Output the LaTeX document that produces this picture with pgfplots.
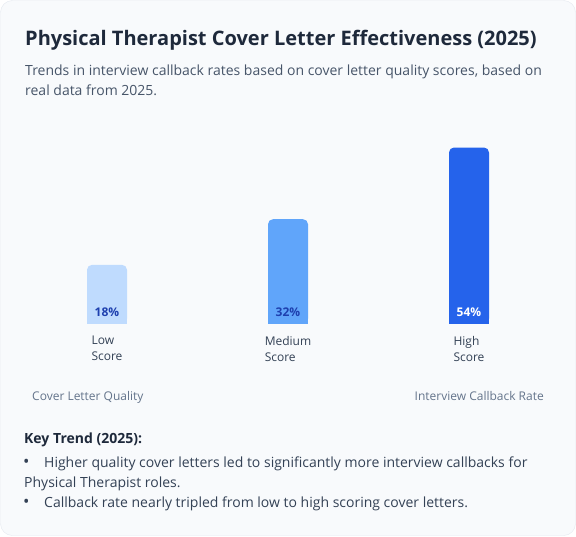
\documentclass[border=0pt]{standalone}
\usepackage{pgfplots}
\pgfplotsset{compat=1.18}
\usepackage{fontspec}
\setmainfont{Open Sans}

\definecolor{card}{HTML}{F8FAFC}
\definecolor{cardline}{HTML}{E5E9F0}
\definecolor{titlec}{HTML}{1E293B}
\definecolor{subc}{HTML}{475569}
\definecolor{tickc}{HTML}{334155}
\definecolor{axc}{HTML}{64748B}
\definecolor{lowc}{HTML}{BFDBFE}
\definecolor{medc}{HTML}{60A5FA}
\definecolor{highc}{HTML}{2563EB}
\definecolor{valc}{HTML}{1E40AF}

\pgfplotsset{
  cardbar/.style={ybar, bar width=40pt, bar shift=0pt, draw=none},
  % lower part of a bar: square corners, carries the value label
  barfoot/.style={cardbar, y filter/.expression={min(y,3.6)}, point meta=rawy,
    nodes near coords={\pgfmathprintnumber[assume math mode=true]{\pgfplotspointmeta}\%},
    every node near coord/.append style={anchor=center, inner sep=0pt, text=#1,
      font=\fontsize{12}{14}\selectfont\bfseries}},
}

\begin{document}
\begin{tikzpicture}[x=1pt,y=-1pt]
\fill[white] (0,0) rectangle (576,536);
\draw[cardline, fill=card, rounded corners=12pt] (0.5,0.5) rectangle (575.5,535.5);

\node[anchor=base west, inner sep=0, text=titlec, font=\fontsize{20}{24}\selectfont\bfseries]
  at (25,45) {Physical Therapist Cover Letter Effectiveness (2025)};
\node[anchor=base west, inner sep=0, text=subc, font=\fontsize{14}{20}\selectfont]
  at (25,75) {Trends in interview callback rates based on cover letter quality scores, based on};
\node[anchor=base west, inner sep=0, text=subc, font=\fontsize{14}{20}\selectfont]
  at (25,95) {real data from 2025.};

\begin{axis}[
  at={(16.5pt,-323.5pt)}, anchor=south west,
  scale only axis, width=543pt, height=176pt,
  xmin=-0.5, xmax=2.5, ymin=0, ymax=54,
  clip=false,
  axis line style={draw=none}, tick style={draw=none},
  ytick=\empty,
  xtick={0,1,2},
  xticklabels={{Low\\Score},{Medium\\Score},{High\\Score}},
  xticklabel style={align=left, text=tickc, yshift=-9pt, font=\fontsize{12}{16}\selectfont},
]
\addplot[cardbar, fill=lowc, rounded corners=5pt] coordinates {(0,18)};
\addplot[barfoot=valc, fill=lowc] coordinates {(0,18)};
\addplot[cardbar, fill=medc, rounded corners=5pt] coordinates {(1,32)};
\addplot[barfoot=valc, fill=medc] coordinates {(1,32)};
\addplot[cardbar, fill=highc, rounded corners=5pt] coordinates {(2,54)};
\addplot[barfoot=white, fill=highc] coordinates {(2,54)};
\end{axis}

\node[anchor=base west, inner sep=0, text=axc, font=\fontsize{12}{14}\selectfont]
  at (32,400) {Cover Letter Quality};
\node[anchor=base east, inner sep=0, text=axc, font=\fontsize{12}{14}\selectfont]
  at (544,400) {Interview Callback Rate};

\node[anchor=base west, inner sep=0, text=titlec, font=\fontsize{14}{18}\selectfont\bfseries]
  at (24,443) {Key Trend (2025):};
\foreach \yy/\txt in {467/{Higher quality cover letters led to significantly more interview callbacks for},
                      507/{Callback rate nearly tripled from low to high scoring cover letters.}} {
  \node[anchor=base west, inner sep=0, text=tickc, font=\fontsize{17}{18}\selectfont] at (23,\yy) {•};
  \node[anchor=base west, inner sep=0, text=tickc, font=\fontsize{14}{18}\selectfont] at (44,\yy) {\txt};
}
\node[anchor=base west, inner sep=0, text=tickc, font=\fontsize{14}{18}\selectfont]
  at (24,487) {Physical Therapist roles.};
\end{tikzpicture}
\end{document}
